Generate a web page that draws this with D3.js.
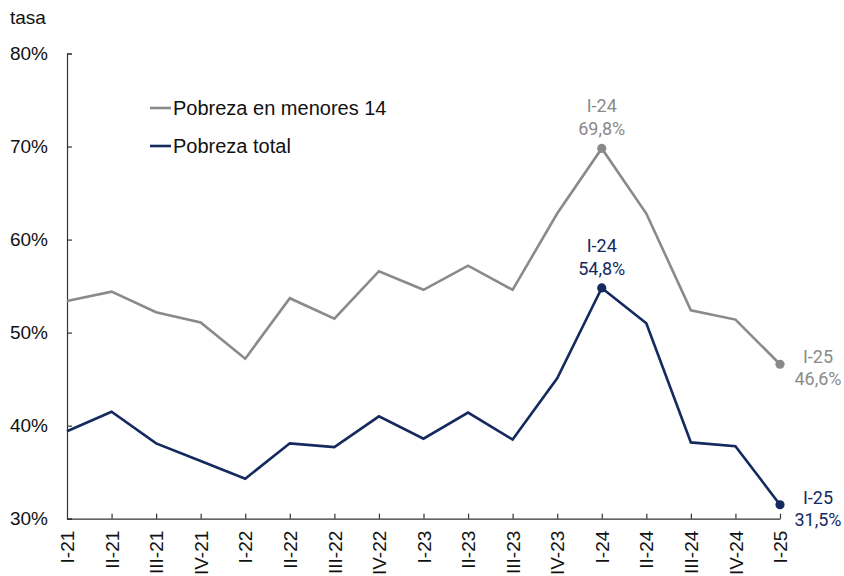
<!DOCTYPE html>
<html><head><meta charset="utf-8">
<script src="https://cdn.jsdelivr.net/npm/d3@7"></script>
<style>body{margin:0;background:#fff}svg{display:block}</style>
</head><body>
<svg id="chart" width="844" height="576"></svg>
<script>
const categories = ["I-21","II-21","III-21","IV-21","I-22","II-22","III-22","IV-22","I-23","II-23","III-23","IV-23","I-24","II-24","III-24","IV-24","I-25"];
const pobrezaMenores14 = [53.4,54.4,52.2,51.1,47.2,53.7,51.5,56.6,54.6,57.2,54.6,62.8,69.8,62.8,52.4,51.4,46.6];
const pobrezaTotal = [39.4,41.5,38.1,36.2,34.3,38.1,37.7,41.0,38.6,41.4,38.5,45.1,54.8,51.0,38.2,37.8,31.5];
const yTicks = [30,40,50,60,70,80];
const seriesNames = ["Pobreza en menores 14","Pobreza total"];
const colors = ["#8a8a8a","#14295e"];

const svg = d3.select("#chart");
const x = d3.scalePoint().domain(categories).range([67,780]);
const y = d3.scaleLinear().domain([30,80]).range([518.7,53.5]);
const axisFont = "'Liberation Sans', Arial, sans-serif";

// y axis
const gy = svg.append("g").attr("transform","translate(67,0)")
  .call(d3.axisLeft(y).tickValues(yTicks).tickSize(-5).tickPadding(0).tickFormat(d=>d+"%"));
gy.select(".domain").attr("stroke","#333").attr("stroke-width",1.2);
gy.selectAll(".tick line").attr("stroke","#333").attr("stroke-width",1.2);
gy.selectAll(".tick text").attr("x",-19).attr("font-family",axisFont).attr("font-size",19).attr("fill","#111");

// x axis
const gx = svg.append("g").attr("transform","translate(0,518.7)")
  .call(d3.axisBottom(x).tickSize(-5).tickSizeOuter(0));
gx.select(".domain").attr("stroke","#333").attr("stroke-width",1.2);
gx.selectAll(".tick line").attr("stroke","#333").attr("stroke-width",1.2)
  .attr("display",(d,i)=>i===0?"none":null);
gx.selectAll(".tick text")
  .attr("font-family",axisFont).attr("font-size",19).attr("fill","#111")
  .attr("transform","rotate(-90)").attr("text-anchor","end")
  .attr("x",-12).attr("y",0).attr("dy","0.35em");

svg.append("text").attr("x",10).attr("y",24).attr("font-family",axisFont)
  .attr("font-size",19).attr("fill","#111").text("tasa");

const line = d3.line().x((d,i)=>x(categories[i])).y(d=>y(d));
[pobrezaMenores14,pobrezaTotal].forEach((s,k)=>{
  svg.append("path").datum(s).attr("d",line).attr("fill","none")
    .attr("stroke",colors[k]).attr("stroke-width",2.6).attr("stroke-linejoin","miter");
});

// legend
seriesNames.forEach((n,k)=>{
  const ly = 108 + k*38;
  svg.append("line").attr("x1",150).attr("x2",171).attr("y1",ly).attr("y2",ly)
    .attr("stroke",colors[k]).attr("stroke-width",2.6);
  svg.append("text").attr("x",173).attr("y",ly).attr("dy","0.35em")
    .attr("font-family",axisFont).attr("font-size",20).attr("fill","#111").text(n);
});

// annotations
const annFont = "Roboto, sans-serif";
function annotate(series, cat, k, pos){
  const i = categories.indexOf(cat), v = series[i];
  const cx = x(cat), cy = y(v);
  svg.append("circle").attr("cx",cx).attr("cy",cy).attr("r",4.6).attr("fill",colors[k]);
  const label = v.toFixed(1).replace(".",",")+"%";
  let tx, b1, b2;
  if(pos==="top"){ tx = cx; b1 = cy-36; b2 = cy-13; }
  else { tx = cx+38; b1 = cy-1; b2 = cy+21; }
  svg.append("text").attr("x",tx).attr("y",b1).attr("text-anchor","middle")
    .attr("font-family",annFont).attr("font-size",18).attr("fill",colors[k]).text(cat);
  svg.append("text").attr("x",tx).attr("y",b2).attr("text-anchor","middle")
    .attr("font-family",annFont).attr("font-size",18).attr("fill",colors[k]).text(label);
}
annotate(pobrezaMenores14,"I-24",0,"top");
annotate(pobrezaTotal,"I-24",1,"top");
annotate(pobrezaMenores14,"I-25",0,"right");
annotate(pobrezaTotal,"I-25",1,"right");
</script>
</body></html>
